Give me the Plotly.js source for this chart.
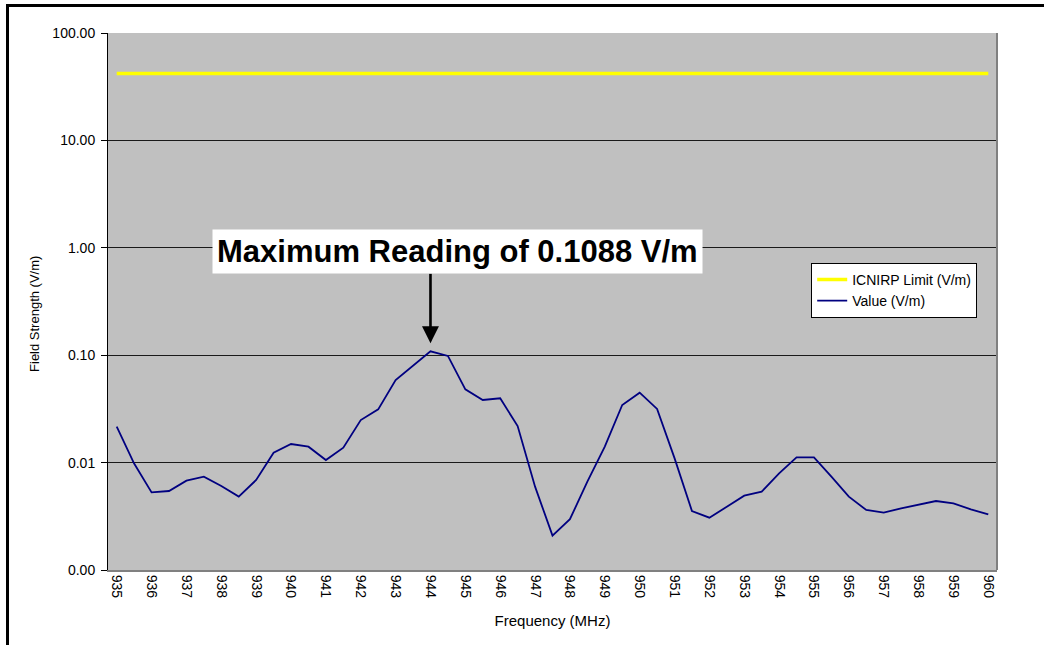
<!DOCTYPE html>
<html>
<head>
<meta charset="utf-8">
<script src="https://cdn.plot.ly/plotly-3.0.1.min.js"></script>
<style>
  html, body { margin: 0; padding: 0; background: #ffffff; }
  #chart { width: 1044px; height: 645px; position: relative; }
  #frame { position: absolute; left: 6px; top: 4px; width: 1044px; height: 650px;
           border-top: 3px solid #000; border-left: 3px solid #000; pointer-events: none; }
</style>
</head>
<body>
<div id="chart"></div>
<div id="frame"></div>
<script>
// Frequency (MHz), sampled every 0.5 MHz
const frequencies = [
  935, 935.5, 936, 936.5, 937, 937.5, 938, 938.5, 939, 939.5,
  940, 940.5, 941, 941.5, 942, 942.5, 943, 943.5, 944, 944.5,
  945, 945.5, 946, 946.5, 947, 947.5, 948, 948.5, 949, 949.5,
  950, 950.5, 951, 951.5, 952, 952.5, 953, 953.5, 954, 954.5,
  955, 955.5, 956, 956.5, 957, 957.5, 958, 958.5, 959, 959.5, 960
];
// Measured field strength (V/m)
const measuredValues = [
  0.0216, 0.0098, 0.00528, 0.00544, 0.00679, 0.0074, 0.00605, 0.00482, 0.00689, 0.01237,
  0.0149, 0.01406, 0.01057, 0.01377, 0.0249, 0.0313, 0.0587, 0.0793, 0.1088, 0.0985,
  0.0481, 0.0383, 0.0397, 0.0219, 0.00597, 0.00209, 0.00297, 0.00664, 0.0141, 0.0344,
  0.0448, 0.0316, 0.0110, 0.00354, 0.00307, 0.00388, 0.00492, 0.00536, 0.00795, 0.0112,
  0.0112, 0.0074, 0.00482, 0.00362, 0.00342, 0.00375, 0.00406, 0.00439, 0.00418, 0.00367, 0.0033
];
// ICNIRP limit (V/m)
const icnirpLimit = [
  42, 42, 42, 42, 42, 42, 42, 42, 42, 42,
  42, 42, 42, 42, 42, 42, 42, 42, 42, 42,
  42, 42, 42, 42, 42, 42, 42, 42, 42, 42,
  42, 42, 42, 42, 42, 42, 42, 42, 42, 42,
  42, 42, 42, 42, 42, 42, 42, 42, 42, 42, 42
];
const xTickVals = [935,936,937,938,939,940,941,942,943,944,945,946,947,948,949,950,951,952,953,954,955,956,957,958,959,960];
const xTickText = xTickVals.map(String);
const yTickVals = [0.001, 0.01, 0.1, 1, 10, 100];
const yTickText = ["0.00", "0.01", "0.10", "1.00", "10.00", "100.00"];
const xTitle = "Frequency (MHz)";
const yTitle = "Field Strength (V/m)";
const maxLabel = "Maximum Reading of 0.1088 V/m";
const maxFreq = 944;
const maxValue = 0.1088;

const FONT = "Liberation Sans, Arial, sans-serif";

const traces = [
  {
    x: frequencies, y: icnirpLimit, type: "scatter", mode: "lines",
    name: "ICNIRP Limit (V/m)",
    line: { color: "#FFFF00", width: 3.5 },
    hoverinfo: "skip"
  },
  {
    x: frequencies, y: measuredValues, type: "scatter", mode: "lines",
    name: "Value (V/m)",
    line: { color: "#000080", width: 1.8 },
    hoverinfo: "skip"
  }
];

const layout = {
  width: 1044, height: 645,
  margin: { l: 108, r: 47, t: 33, b: 75 },
  paper_bgcolor: "rgba(0,0,0,0)",
  plot_bgcolor: "#C0C0C0",
  font: { family: FONT, color: "#000", size: 13 },
  showlegend: true,
  legend: {
    x: 0.791, y: 0.572, xanchor: "left", yanchor: "top",
    bgcolor: "#FFFFFF", bordercolor: "#000000", borderwidth: 1,
    font: { family: FONT, size: 14, color: "#000" },
    itemwidth: 30, tracegroupgap: 0
  },
  xaxis: {
    type: "linear",
    range: [934.75, 960.25],
    tickmode: "array", tickvals: xTickVals, ticktext: xTickText,
    tickangle: 90,
    tickfont: { family: FONT, size: 14, color: "#000" },
    showgrid: false, zeroline: false,
    showline: true, linecolor: "#808080", linewidth: 2,
    ticks: "", ticklen: 0,
    title: { text: xTitle, font: { family: FONT, size: 15, color: "#000" }, standoff: 18 }
  },
  yaxis: {
    type: "log",
    range: [-3, 2],
    tickmode: "array", tickvals: yTickVals, ticktext: yTickText,
    tickfont: { family: FONT, size: 14, color: "#000" },
    ticklabelstandoff: 3,
    showgrid: true, gridcolor: "#1a1a1a", gridwidth: 1,
    zeroline: false,
    showline: true, linecolor: "#000000", linewidth: 1,
    ticks: "outside", ticklen: 6, tickcolor: "#000"
  },
  shapes: [
    { type: "line", xref: "paper", yref: "paper", x0: 1, x1: 1, y0: 0, y1: 1,
      line: { color: "#808080", width: 2 } }
  ],
  annotations: [
    {
      x: -0.082, y: 0.477, xref: "paper", yref: "paper",
      xanchor: "center", yanchor: "middle", textangle: -90,
      text: yTitle, showarrow: false,
      font: { family: FONT, size: 13, color: "#000" }
    },
    {
      x: maxFreq, y: Math.log10(maxValue), xref: "x", yref: "y",
      text: "", showarrow: true, ax: 0, ay: -79, standoff: 8,
      arrowhead: 2, arrowsize: 1.3, arrowwidth: 2.6, arrowcolor: "#000"
    },
    {
      x: 0.3937, y: 0.594, xref: "paper", yref: "paper",
      xanchor: "center", yanchor: "middle",
      text: "<b>" + maxLabel + "</b>", showarrow: false,
      bgcolor: "#FFFFFF", borderpad: 4,
      font: { family: FONT, size: 31, color: "#000" }
    }
  ]
};

Plotly.newPlot("chart", traces, layout, { displayModeBar: false, staticPlot: true });
</script>
</body>
</html>
